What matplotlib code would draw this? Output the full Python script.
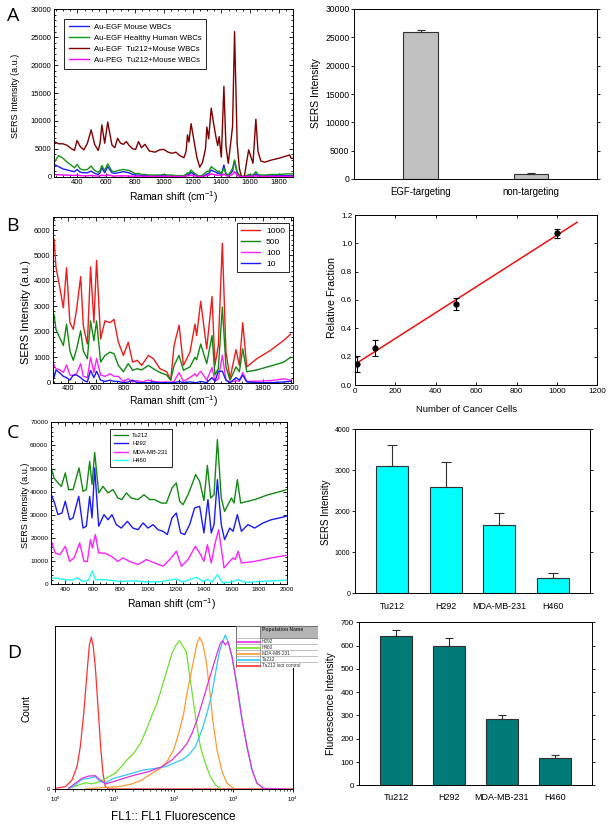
import numpy as np
import matplotlib.pyplot as plt
from matplotlib.ticker import MultipleLocator, LogLocator, NullFormatter, FormatStrFormatter
from matplotlib.patches import Rectangle

plt.rcParams['font.family'] = ['Liberation Sans', 'DejaVu Sans']
plt.rcParams['mathtext.fontset'] = 'custom'
plt.rcParams['mathtext.rm'] = 'Liberation Sans'
plt.rcParams['mathtext.it'] = 'Liberation Sans:italic'
plt.rcParams['axes.linewidth'] = 0.7

# ---------------- panel A: spectra (Raman shift, cm-1) ----------------
a_shift = [240, 270, 300, 330, 360, 380, 398, 420, 445, 470,
           496, 520, 545, 558, 570, 590, 611, 640, 660, 680,
           700, 720, 740, 760, 785, 805, 825, 845, 870, 900,
           940, 970, 1000, 1030, 1060, 1085, 1110, 1140, 1155, 1165,
           1175, 1190, 1210, 1230, 1250, 1270, 1290, 1300, 1312, 1330,
           1345, 1362, 1375, 1385, 1400, 1418, 1432, 1448, 1465, 1478,
           1492, 1510, 1525, 1540, 1560, 1575, 1590, 1605, 1620, 1640,
           1655, 1675, 1700, 1750, 1800, 1850, 1875, 1885, 1900]
a_mouse = [2200, 1800, 1400, 1200, 1000, 900, 1300, 800, 700, 700,
           1000, 600, 400, 700, 1600, 700, 1800, 700, 600, 700,
           800, 900, 800, 700, 400, 300, 300, 200, 200, 150,
           150, 200, 200, 150, 100, 100, 100, 100, 300, 500,
           400, 800, 400, 200, 50, 100, 300, 500, 500, 1200,
           1000, 800, 600, 700, 400, 2100, 500, 200, 600, 1000,
           2900, 600, 200, 50, 0, 100, 200, 150, 150, 500,
           200, 150, 150, 150, 200, 200, 200, 200, 200]
a_human = [2600, 3800, 3300, 2600, 2000, 1600, 2200, 1400, 1200, 1300,
           1900, 1100, 800, 1100, 2000, 1100, 2300, 1000, 900, 1100,
           1200, 1300, 1200, 1100, 800, 500, 600, 400, 400, 300,
           300, 300, 400, 300, 300, 200, 200, 200, 400, 700,
           600, 1200, 700, 300, 100, 300, 700, 1000, 900, 1800,
           1500, 1200, 900, 1000, 500, 1500, 600, 300, 900, 1500,
           3000, 900, 300, 100, 0, 200, 400, 300, 300, 900,
           400, 300, 300, 400, 400, 500, 500, 500, 500]
a_tu212 = [6300, 5900, 5900, 5600, 5000, 4700, 6500, 5400, 4800, 6000,
           8400, 5800, 4700, 6000, 9300, 6000, 9800, 5700, 5200, 6900,
           6000, 5800, 6300, 5600, 5000, 4900, 6300, 5200, 5800, 4600,
           4400, 4800, 4900, 4400, 4200, 4400, 3800, 3400, 4500, 7500,
           6200, 9500, 6500, 3500, 1700, 2600, 5000, 8900, 6800, 12300,
           9800, 7200, 5600, 7200, 3500, 16200, 5500, 2400, 6000, 9000,
           26000, 6000, 1500, 0, 0, 2500, 4800, 3600, 2400, 10300,
           4500, 2800, 2600, 3000, 3300, 3700, 3900, 3300, 3300]
a_peg = [400, 350, 300, 300, 250, 200, 300, 200, 150, 150,
         250, 150, 100, 150, 300, 150, 350, 150, 100, 150,
         150, 150, 150, 100, 100, 80, 100, 80, 80, 60,
         60, 60, 80, 60, 50, 50, 50, 50, 100, 200,
         150, 300, 150, 80, 30, 50, 150, 250, 250, 500,
         400, 300, 250, 300, 150, 500, 200, 80, 300, 400,
         900, 200, 80, 20, 0, 30, 80, 60, 60, 200,
         80, 50, 50, 50, 60, 60, 60, 60, 60]

a_groups = ['EGF-targeting', 'non-targeting']
a_bar = [25900, 900]
a_bar_err = [400, 100]

# ---------------- panel B ----------------
b_shift = [302, 316, 340, 369, 392, 416, 440, 464, 493, 512,
           541, 564, 588, 607, 636, 667, 703, 732, 763, 799,
           834, 865, 899, 930, 978, 1014, 1061, 1109, 1138, 1162,
           1198, 1229, 1276, 1312, 1324, 1353, 1396, 1434, 1455, 1479,
           1508, 1534, 1563, 1606, 1630, 1654, 1683, 1754, 1850, 1945,
           1998]
b_1000 = [5650, 4550, 3850, 2940, 4520, 2360, 2100, 2880, 4170, 2230,
          1520, 4550, 2360, 4810, 1720, 2430, 2360, 2490, 1590, 1070,
          1590, 810, 880, 680, 1070, 940, 550, 430, 100, 1460,
          2260, 680, 1200, 2300, 1850, 3200, 1330, 3390, 680, 1460,
          5480, 1200, 170, 1300, 680, 2360, 620, 940, 1260, 1650,
          1910]
b_500 = [2680, 2100, 1800, 1460, 2300, 1250, 880, 1330, 2040, 1250,
         940, 2430, 1650, 2430, 810, 1070, 1200, 1140, 680, 430,
         750, 490, 550, 500, 680, 550, 400, 300, 100, 680,
         1070, 490, 620, 1000, 900, 1520, 750, 1850, 300, 550,
         2970, 620, 100, 620, 430, 1330, 430, 500, 650, 800,
         1000]
b_100 = [700, 550, 520, 400, 700, 300, 280, 350, 750, 250,
         200, 1000, 400, 950, 300, 250, 350, 250, 250, 50,
         150, 30, 80, 30, 100, 50, 20, 30, 20, 50,
         400, 50, 200, 350, 250, 450, 100, 600, 50, 150,
         1080, 100, 20, 80, 50, 400, 50, 60, 80, 150,
         100]
b_10 = [200, 500, 400, 250, 200, 100, 300, 300, 200, 100,
        30, 480, 200, 450, 100, 50, 100, 50, 50, 0,
        30, 100, 0, 0, 0, 20, 0, 0, 0, 0,
        50, 0, 30, 0, 0, 50, 0, 200, 50, 450,
        450, 100, 0, 200, 100, 300, 30, 0, 0, 30,
        50]

b_cells = [10, 100, 500, 1000]
b_frac = [0.148, 0.263, 0.570, 1.071]
b_frac_err = [0.057, 0.058, 0.041, 0.030]

# ---------------- panel C ----------------
c_tu212_x = [302, 322, 350, 375, 403, 427, 459, 502, 531, 555,
             579, 596, 615, 644, 675, 711, 747, 783, 812, 843,
             879, 927, 971, 1012, 1048, 1096, 1132, 1173, 1204, 1228,
             1252, 1288, 1317, 1343, 1372, 1403, 1428, 1452, 1476, 1500,
             1528, 1552, 1601, 1620, 1644, 1668, 1769, 1865, 1961, 1997]
c_tu212 = [50300, 45900, 43800, 42300, 48100, 40900, 40900, 50300, 40200, 40900,
           53100, 43100, 57000, 39500, 42300, 39500, 40900, 37300, 36600, 39500,
           37300, 36600, 38700, 36600, 36600, 35100, 35100, 41600, 43800, 35900,
           34400, 38700, 43100, 47400, 44500, 36200, 51400, 37300, 38700, 62500,
           37300, 31500, 37300, 35100, 45200, 35100, 36600, 38700, 40200, 40900]
c_h292_x = [302, 326, 350, 379, 403, 435, 459, 500, 531, 555,
            579, 596, 615, 644, 682, 711, 740, 771, 807, 851,
            891, 927, 964, 1000, 1036, 1072, 1108, 1139, 1173, 1204,
            1235, 1264, 1300, 1336, 1372, 1403, 1432, 1456, 1476, 1500,
            1528, 1552, 1589, 1613, 1644, 1673, 1721, 1769, 1829, 1889,
            1949, 1997]
c_h292 = [38700, 35100, 30100, 30800, 35900, 27900, 28700, 38000, 24300, 25100,
          38000, 28700, 50300, 25100, 30100, 27900, 30100, 25800, 24300, 27200,
          24300, 23600, 26500, 24300, 25800, 23600, 22900, 21500, 28700, 30800,
          22200, 21500, 25800, 33000, 33700, 22200, 36600, 22200, 25800, 45200,
          25800, 19300, 24300, 22900, 30100, 22900, 25800, 24300, 26500, 27900,
          28700, 29400]
c_mda_x = [302, 331, 363, 403, 435, 466, 507, 538, 562, 584,
           598, 620, 644, 687, 735, 783, 819, 867, 927, 988,
           1048, 1108, 1156, 1204, 1240, 1288, 1341, 1379, 1403, 1428,
           1456, 1481, 1509, 1548, 1589, 1613, 1630, 1649, 1673, 1769,
           1889, 1997]
c_mda = [18600, 13500, 12800, 16400, 9900, 11400, 17900, 9900, 9900, 19300,
         15700, 21500, 13500, 13500, 12100, 9900, 11400, 9900, 8500, 10700,
         9200, 7800, 10700, 14300, 7800, 10700, 16400, 12800, 9900, 17100,
         9200, 17100, 23600, 7100, 9900, 11400, 10700, 14300, 9200, 9900,
         11400, 12500]
c_h460_x = [300, 350, 400, 450, 490, 530, 570, 598, 620, 680,
            800, 900, 1000, 1100, 1200, 1250, 1350, 1400, 1430, 1460,
            1500, 1540, 1600, 1650, 1700, 1800, 1900, 2000]
c_h460 = [2800, 2500, 2000, 1800, 2800, 1200, 1800, 5800, 2000, 2000,
          1200, 1500, 1000, 1200, 2300, 1000, 3000, 1200, 2200, 1000,
          4200, 600, 1000, 2000, 800, 1200, 1500, 1800]

cell_lines = ['Tu212', 'H292', 'MDA-MB-231', 'H460']
c_bar = [3100, 2600, 1660, 380]
c_bar_err = [510, 590, 290, 110]

# ---------------- panel D: flow histograms (log10 FL1, normalised count) ----------------
d_iso_log = [0.0, 0.169, 0.281, 0.365, 0.421, 0.478, 0.534, 0.573, 0.607, 0.640,
             0.674, 0.719, 0.764, 0.803, 0.843, 0.899, 4.0]
d_iso = [0.006, 0.016, 0.057, 0.138, 0.26, 0.46, 0.71, 0.88, 0.93, 0.87,
         0.75, 0.505, 0.26, 0.098, 0.016, 0.002, 0.002]
d_h460_log = [0.225, 0.393, 0.506, 0.618, 0.758, 0.899, 1.011, 1.124, 1.208, 1.320,
              1.433, 1.545, 1.629, 1.713, 1.798, 1.882, 1.966, 2.034, 2.090, 2.146,
              2.208, 2.258, 2.315, 2.371, 2.444, 2.528, 2.612, 2.697, 2.781]
d_h460 = [0.006, 0.026, 0.040, 0.033, 0.047, 0.077, 0.098, 0.143, 0.180, 0.220,
          0.280, 0.373, 0.454, 0.525, 0.627, 0.729, 0.831, 0.882, 0.908, 0.876,
          0.841, 0.709, 0.566, 0.424, 0.260, 0.159, 0.077, 0.026, 0.006]
d_mda_log = [0.506, 0.787, 1.067, 1.292, 1.461, 1.629, 1.770, 1.882, 1.994, 2.079,
             2.163, 2.219, 2.275, 2.331, 2.388, 2.433, 2.483, 2.539, 2.596, 2.652,
             2.725, 2.809, 2.893, 3.006]
d_mda = [0.002, 0.010, 0.016, 0.033, 0.057, 0.098, 0.128, 0.169, 0.240, 0.342,
         0.464, 0.587, 0.688, 0.790, 0.892, 0.929, 0.892, 0.790, 0.627, 0.424,
         0.240, 0.108, 0.037, 0.006]
d_h292_log = [0.225, 0.337, 0.449, 0.562, 0.674, 0.758, 0.843, 0.983, 1.152, 1.348,
              1.573, 1.798, 1.966, 2.107, 2.219, 2.303, 2.388, 2.472, 2.556, 2.640,
              2.725, 2.781, 2.820, 2.865, 2.910, 2.978, 3.062, 3.146, 3.230, 3.315,
              3.399, 3.511, 3.876]
d_h292 = [0.006, 0.037, 0.067, 0.081, 0.083, 0.057, 0.033, 0.047, 0.067, 0.088,
          0.108, 0.138, 0.180, 0.230, 0.280, 0.342, 0.424, 0.525, 0.627, 0.729,
          0.831, 0.892, 0.908, 0.882, 0.902, 0.810, 0.627, 0.424, 0.260, 0.118,
          0.037, 0.006, 0.002]
d_tu212_log = [0.225, 0.337, 0.449, 0.562, 0.674, 0.758, 0.843, 0.983, 1.124, 1.292,
               1.489, 1.685, 1.854, 1.994, 2.135, 2.247, 2.360, 2.472, 2.556, 2.640,
               2.708, 2.764, 2.820, 2.865, 2.921, 2.978, 3.062, 3.146, 3.230, 3.315,
               3.399, 3.511]
d_tu212 = [0.006, 0.026, 0.061, 0.067, 0.077, 0.047, 0.040, 0.067, 0.081, 0.098,
           0.118, 0.128, 0.138, 0.159, 0.180, 0.210, 0.260, 0.363, 0.464, 0.587,
           0.729, 0.841, 0.902, 0.943, 0.892, 0.810, 0.637, 0.434, 0.260, 0.118,
           0.037, 0.006]
d_names = ['H292', 'H460', 'MDA-MB-231', 'Tu212', 'Tu212 isot control']
d_colors = ['#e030e0', '#70e030', '#ff9a33', '#30c8ff', '#ff3030']

d_bar = [642, 600, 285, 118]
d_bar_err = [23, 32, 18, 13]


W, H = 612, 826
fig = plt.figure(figsize=(W / 100, H / 100), dpi=100)


def box(x0, y0, x1, y1):
    # pixel box (top-left origin) -> axes
    return fig.add_axes([x0 / W, 1 - y1 / H, (x1 - x0) / W, (y1 - y0) / H])


def label(x, y, s, size, rot=0):
    fig.text(x / W, 1 - y / H, s, fontsize=size, rotation=rot, ha='center', va='center')


def spectrum_axes(ax, xlim, ylim, ystep, fs):
    ax.set_xlim(*xlim)
    ax.set_ylim(*ylim)
    ax.xaxis.set_major_locator(MultipleLocator(200))
    ax.xaxis.set_minor_locator(MultipleLocator(50))
    ax.yaxis.set_major_locator(MultipleLocator(ystep))
    ax.yaxis.set_minor_locator(MultipleLocator(ystep / 5))
    ax.tick_params(which='both', direction='in', top=True, right=True, width=0.6,
                   labelsize=fs, pad=2)
    ax.tick_params(which='major', length=3)
    ax.tick_params(which='minor', length=1.5)


def bar_axes(ax, pos, vals, errs, color, width, cap, ylim, ystep, fs, names, namefs, namepad):
    ax.bar(pos, vals, width=width, color=color, edgecolor='#303030', linewidth=0.8)
    ax.errorbar(pos, vals, yerr=[np.zeros(len(errs)), errs], fmt='none', ecolor='#303030',
                elinewidth=0.8, capsize=cap, capthick=0.8)
    ax.set_ylim(*ylim)
    ax.set_xlim(pos[0] - 0.7, pos[-1] + 0.7)
    ax.yaxis.set_major_locator(MultipleLocator(ystep))
    ax.tick_params(axis='y', direction='out', right=True, length=2, width=0.6,
                   labelsize=fs, pad=1.5)
    ax.set_xticks(pos)
    ax.set_xticklabels(names, fontsize=namefs)
    ax.tick_params(axis='x', length=0, pad=namepad)


# ---- A left
ax = box(54.3, 9.3, 293.3, 176.7)
ax.plot(a_shift, a_mouse, color='#1f1fff', lw=1.0, label='Au-EGF Mouse WBCs')
ax.plot(a_shift, a_human, color='#149614', lw=1.0, label='Au-EGF Healthy Human WBCs')
ax.plot(a_shift, a_tu212, color='#800000', lw=1.0, label='Au-EGF  Tu212+Mouse WBCs')
ax.plot(a_shift, a_peg, color='#ff00ff', lw=1.0, label='Au-PEG  Tu212+Mouse WBCs')
spectrum_axes(ax, (240, 1900), (0, 30000), 5000, 5.5)
leg = ax.legend(loc='upper left', bbox_to_anchor=(0.042, 0.942), borderaxespad=0,
                fontsize=5.6, handlelength=2.6, handletextpad=0.6, labelspacing=0.45,
                borderpad=0.6, fancybox=False, edgecolor='black', framealpha=1)
leg.get_frame().set_linewidth(0.6)
label(174, 197, 'Raman shift (cm$^{-1}$)', 7.5)
label(16, 96, 'SERS Intensity (a.u.)', 6.5, 90)

# ---- A right
ax = box(354.3, 9, 597.3, 179)
bar_axes(ax, [0, 1], a_bar, a_bar_err, '#c0c0c0', 0.31, 2.8, (0, 30000), 5000, 6.2,
         a_groups, 6.9, 5.5)
ax.set_xlim(-0.6, 1.6)
label(316, 93, 'SERS Intensity', 7.5, 90)

# ---- B left
ax = box(53.3, 217.3, 292.7, 382.7)
ax.plot(b_shift, b_1000, color='#ee1c1c', lw=1.0, label='1000')
ax.plot(b_shift, b_500, color='#118811', lw=1.0, label='500')
ax.plot(b_shift, b_100, color='#ff22ff', lw=1.0, label='100')
ax.plot(b_shift, b_10, color='#1a1aff', lw=1.0, label='10')
spectrum_axes(ax, (297, 2012), (0, 6500), 1000, 5.4)
leg = ax.legend(loc='upper right', bbox_to_anchor=(0.985, 0.964), borderaxespad=0,
                fontsize=6, handlelength=2.3, handletextpad=0.7, labelspacing=0.35,
                borderpad=0.5, fancybox=False, edgecolor='black', framealpha=1)
leg.get_frame().set_linewidth(0.6)
label(174, 401, 'Raman shift (cm$^{-1}$)', 7.5)
label(25.7, 312, 'SERS Intensity (a.u.)', 8, 90)

# ---- B right
ax = box(355, 215, 597.3, 385)
fit = np.polyfit(b_cells, b_frac, 1)
fx = np.array([0, 1100])
ax.plot(fx, np.polyval(fit, fx), color='#ee1111', lw=1.1)
ax.errorbar(b_cells, b_frac, yerr=b_frac_err, fmt='o', color='black', ms=3.5,
            elinewidth=0.8, capsize=2.2, capthick=0.8)
ax.set_xlim(0, 1200)
ax.set_ylim(0, 1.2)
ax.xaxis.set_major_locator(MultipleLocator(200))
ax.yaxis.set_major_locator(MultipleLocator(0.2))
ax.yaxis.set_major_formatter(FormatStrFormatter('%.1f'))
ax.tick_params(direction='in', top=True, right=True, length=2.5, width=0.6, labelsize=5.8, pad=2)
label(331.7, 298, 'Relative Fraction', 7.7, 90)
label(467, 409.5, 'Number of Cancer Cells', 6.8)

# ---- C left
ax = box(51, 422.3, 286.7, 584.3)
ax.plot(c_tu212_x, c_tu212, color='#128a12', lw=1.0, label='Tu212')
ax.plot(c_h292_x, c_h292, color='#1a1aff', lw=1.0, label='H292')
ax.plot(c_mda_x, c_mda, color='#ff22ff', lw=1.0, label='MDA-MB-231')
ax.plot(c_h460_x, c_h460, color='#22ffff', lw=1.0, label='H460')
spectrum_axes(ax, (300, 2000), (0, 70000), 10000, 4.6)
leg = ax.legend(loc='upper left', bbox_to_anchor=(0.25, 0.959), borderaxespad=0,
                fontsize=4.2, handlelength=2.4, handletextpad=0.7, labelspacing=0.55,
                borderpad=0.7, fancybox=False, edgecolor='black', framealpha=1)
leg.get_frame().set_linewidth(0.6)
label(171.7, 604, 'Raman shift (cm$^{-1}$)', 7.5)
label(25.7, 505, 'SERS intensity (a.u.)', 6.6, 90)

# ---- C right
ax = box(355, 429, 590, 593.3)
bar_axes(ax, [0, 1, 2, 3], c_bar, c_bar_err, '#00ffff', 0.595, 3.6, (0, 4000), 1000, 5,
         cell_lines, 6.4, 6)
label(326.2, 512.5, 'SERS Intensity', 7, 90)

# ---- D left
ax = box(55.3, 625.7, 292.7, 789.3)
ax.plot(10 ** np.array(d_iso_log), d_iso, color=d_colors[4], lw=0.9)
ax.plot(10 ** np.array(d_h460_log), d_h460, color=d_colors[1], lw=0.9)
ax.plot(10 ** np.array(d_mda_log), d_mda, color=d_colors[2], lw=0.9)
ax.plot(10 ** np.array(d_tu212_log), d_tu212, color=d_colors[3], lw=0.9)
ax.plot(10 ** np.array(d_h292_log), d_h292, color=d_colors[0], lw=0.9)
ax.set_xscale('log')
ax.set_xlim(1, 1e4)
ax.set_ylim(0, 1)
ax.set_yticks([0])
ax.xaxis.set_major_locator(LogLocator(base=10, numticks=10))
ax.xaxis.set_minor_locator(LogLocator(base=10, subs=np.arange(2, 10), numticks=10))
ax.xaxis.set_minor_formatter(NullFormatter())
ax.tick_params(which='major', direction='out', length=2.5, width=0.6, labelsize=4.3, pad=1.5)
ax.tick_params(which='minor', direction='out', length=1.5, width=0.5)
label(173.7, 817, 'FL1:: FL1 Fluorescence', 8.5)
label(26.2, 708.3, 'Count', 7.3, 90)

# population table
tb = box(236, 625.7, 318, 668.3)
tb.set_xlim(0, 1)
tb.set_ylim(1, 0)
tb.axis('off')
col = 0.296
head = 0.296
row = (1 - head) / len(d_names)
tb.add_patch(Rectangle((0, 0), 1, 1, facecolor='white', edgecolor='#606060', lw=0.6))
tb.add_patch(Rectangle((col, 0), 1 - col, head, facecolor='#b4b4b4', edgecolor='#606060', lw=0.5))
tb.plot([col, col], [0, 1], color='#808080', lw=0.5)
tb.text(col + 0.02, 0.1, 'Population Name', fontsize=3.6, fontweight='bold', color='#303030',
        va='center', ha='left')
for i, (nm, cl) in enumerate(zip(d_names, d_colors)):
    y0 = head + i * row
    tb.plot([0, 1], [y0, y0], color='#909090', lw=0.4)
    tb.plot([0, col], [y0 + row * 0.55, y0 + row * 0.55], color=cl, lw=1.2)
    tb.text(col + 0.02, y0 + row * 0.5, nm, fontsize=3.4, color='#303030', va='center', ha='left')

# ---- D right
ax = box(359, 622.3, 591.7, 785.3)
bar_axes(ax, [0, 1, 2, 3], d_bar, d_bar_err, '#007b78', 0.6, 2.8, (0, 700), 100, 5.8,
         cell_lines, 6.5, 5.5)
label(331.3, 703.3, 'Fluorescence Intensity', 7.4, 90)

# panel letters
for ch, (x, y) in zip('ABCD', [(12.7, 16), (12.5, 226), (13, 432.5), (13.7, 653)]):
    fig.text(x / W, 1 - y / H, ch, fontsize=14, family=['Open Sans', 'DejaVu Sans'],
             ha='center', va='center')

fig.savefig('out.png', dpi=100)
